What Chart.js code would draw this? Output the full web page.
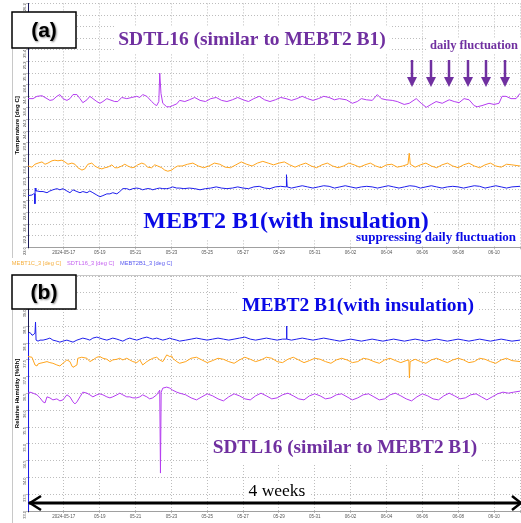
<!DOCTYPE html>
<html>
<head>
<meta charset="utf-8">
<script src="https://cdn.jsdelivr.net/npm/chart.js@4.4.1/dist/chart.umd.min.js"></script>
<style>
  html, body { margin: 0; padding: 0; background: #fff; }
  #wrap { position: relative; width: 521px; height: 523px; overflow: hidden; }
  #c1 { position: absolute; left: 0; top: 0; }
  #c2 { position: absolute; left: 0; top: 272px; }
</style>
</head>
<body>
<div id="wrap">
  <canvas id="c1" width="521" height="278" style="width:521px;height:278px"></canvas>
  <canvas id="c2" width="521" height="251" style="width:521px;height:251px"></canvas>
</div>
<script>
'use strict';

// x = days since 2024-05-15 00:00, y = reading
const xTickText = ['', '2024-05-17', '05-19', '05-21', '05-23', '05-25', '05-27', '05-29', '05-31', '06-02', '06-04', '06-06', '06-08', '06-10']

// temperature [deg C]
const tMebt1c = [[0,23.40],[0.22,23.38],[0.39,23.43],[0.56,23.45],[0.78,23.47],[0.95,23.43],[1.11,23.45],[1.34,23.49],[1.5,23.50],[1.67,23.49],[1.89,23.50],[2.06,23.47],[2.23,23.43],[2.45,23.45],[2.62,23.43],[2.78,23.37],[3.01,23.33],[3.17,23.35],[3.34,23.43],[3.56,23.45],[3.73,23.40],[3.9,23.37],[4.12,23.35],[4.29,23.37],[4.45,23.38],[4.68,23.42],[4.84,23.37],[5.01,23.37],[5.23,23.40],[5.4,23.43],[5.57,23.40],[5.79,23.37],[5.96,23.38],[6.12,23.42],[6.35,23.45],[6.51,23.43],[6.68,23.38],[6.9,23.37],[7.07,23.42],[7.24,23.40],[7.46,23.37],[7.63,23.33],[7.8,23.31],[8.02,23.33],[8.18,23.37],[8.35,23.40],[8.6,23.40],[8.9,23.43],[9.2,23.45],[9.5,23.40],[9.8,23.37],[10.1,23.40],[10.4,23.45],[10.7,23.43],[11.0,23.38],[11.3,23.37],[11.6,23.42],[11.9,23.47],[12.2,23.43],[12.5,23.40],[12.8,23.45],[13.1,23.48],[13.4,23.45],[13.7,23.42],[14.0,23.45],[14.3,23.47],[14.6,23.42],[14.9,23.38],[15.2,23.42],[15.5,23.45],[15.8,23.40],[16.1,23.37],[16.4,23.42],[16.7,23.45],[17.0,23.40],[17.3,23.37],[17.6,23.40],[17.9,23.45],[18.2,23.42],[18.5,23.38],[18.8,23.42],[19.1,23.45],[19.4,23.40],[19.7,23.37],[20.0,23.42],[20.3,23.43],[20.6,23.38],[20.9,23.40],[21.2,23.43],[21.27,23.62],[21.33,23.43],[21.6,23.38],[21.9,23.42],[22.2,23.45],[22.5,23.40],[22.8,23.37],[23.1,23.42],[23.4,23.45],[23.7,23.40],[24.0,23.37],[24.3,23.42],[24.6,23.45],[24.9,23.40],[25.2,23.37],[25.5,23.42],[25.8,23.45],[26.1,23.40],[26.4,23.38],[26.7,23.43],[27.0,23.42],[27.45,23.40]]

const tSdtl16 = [[0,24.56],[0.28,24.56],[0.5,24.60],[0.78,24.61],[1.06,24.56],[1.22,24.53],[1.39,24.54],[1.61,24.60],[1.78,24.63],[1.95,24.56],[2.17,24.53],[2.34,24.56],[2.51,24.63],[2.73,24.63],[2.9,24.56],[3.06,24.49],[3.29,24.54],[3.45,24.60],[3.62,24.56],[3.84,24.51],[4.01,24.48],[4.18,24.51],[4.4,24.56],[4.57,24.54],[4.84,24.51],[5.01,24.51],[5.23,24.58],[5.51,24.56],[5.79,24.58],[6.07,24.60],[6.24,24.58],[6.4,24.63],[6.63,24.60],[6.9,24.51],[7.07,24.46],[7.18,24.44],[7.3,24.51],[7.35,25.00],[7.42,24.65],[7.52,24.48],[7.74,24.42],[7.91,24.42],[8.07,24.44],[8.3,24.47],[8.46,24.53],[8.75,24.51],[9.0,24.54],[9.3,24.58],[9.6,24.53],[9.9,24.51],[10.2,24.56],[10.5,24.58],[10.8,24.53],[11.1,24.51],[11.4,24.54],[11.7,24.58],[12.0,24.54],[12.3,24.51],[12.6,24.56],[12.9,24.60],[13.2,24.54],[13.5,24.51],[13.8,24.54],[14.1,24.58],[14.4,24.56],[14.7,24.53],[15.0,24.56],[15.3,24.60],[15.6,24.56],[15.9,24.53],[16.2,24.56],[16.5,24.60],[16.8,24.58],[17.1,24.54],[17.37,24.56],[17.76,24.54],[18.1,24.48],[18.37,24.51],[18.6,24.56],[18.88,24.54],[19.21,24.53],[19.49,24.63],[19.71,24.56],[19.99,24.54],[20.32,24.53],[20.6,24.51],[20.99,24.46],[21.27,24.48],[21.66,24.56],[21.94,24.48],[22.22,24.41],[22.49,24.46],[22.77,24.51],[23.11,24.48],[23.5,24.54],[23.78,24.51],[24.05,24.49],[24.33,24.56],[24.61,24.54],[24.89,24.44],[25.06,24.42],[25.33,24.44],[25.72,24.48],[26.0,24.46],[26.28,24.48],[26.45,24.60],[26.67,24.60],[26.95,24.56],[27.23,24.56],[27.45,24.65]]

const tMebt2b1 = [[0,22.89],[0.22,22.90],[0.31,22.92],[0.37,22.92],[0.385,22.75],[0.4,23.02],[0.44,22.97],[0.5,22.97],[0.67,22.96],[0.84,22.96],[1.06,22.94],[1.22,22.97],[1.39,22.99],[1.61,23.01],[1.78,22.99],[1.95,23.01],[2.17,22.97],[2.34,22.94],[2.51,22.99],[2.73,22.96],[2.9,22.94],[3.06,22.96],[3.29,22.94],[3.45,22.97],[3.62,22.94],[3.84,22.90],[4.01,22.87],[4.18,22.89],[4.4,22.92],[4.57,22.92],[4.73,22.94],[4.96,22.92],[5.12,22.96],[5.29,23.01],[5.51,23.01],[5.68,22.99],[5.85,23.01],[6.07,23.02],[6.24,23.01],[6.4,22.99],[6.63,23.01],[6.79,23.01],[6.96,22.99],[7.18,23.01],[7.35,23.02],[7.52,23.01],[7.74,23.01],[7.91,23.02],[8.07,23.04],[8.3,23.02],[8.46,23.02],[8.7,23.01],[9.0,23.02],[9.3,23.01],[9.6,22.99],[9.9,23.01],[10.2,23.02],[10.5,23.04],[10.8,23.02],[11.1,23.01],[11.4,23.02],[11.7,23.04],[12.0,23.02],[12.3,23.01],[12.6,23.04],[12.9,23.05],[13.2,23.02],[13.5,23.01],[13.8,23.04],[14.1,23.05],[14.4,23.04],[14.42,23.25],[14.46,23.04],[14.7,23.02],[15.0,23.04],[15.3,23.06],[15.6,23.04],[15.9,23.02],[16.2,23.04],[16.5,23.06],[16.8,23.05],[17.1,23.02],[17.4,23.04],[17.7,23.06],[18.0,23.04],[18.3,23.02],[18.6,23.04],[18.9,23.05],[19.2,23.04],[19.5,23.02],[19.8,23.04],[20.1,23.06],[20.4,23.04],[20.7,23.02],[21.0,23.04],[21.3,23.06],[21.6,23.05],[21.9,23.02],[22.2,23.04],[22.5,23.06],[22.8,23.04],[23.1,23.02],[23.4,23.04],[23.7,23.05],[24.0,23.04],[24.3,23.02],[24.6,23.04],[24.9,23.06],[25.2,23.05],[25.5,23.02],[25.8,23.04],[26.1,23.06],[26.4,23.04],[26.7,23.02],[27.0,23.04],[27.45,23.05]]

// relative humidity [%Rh]
const hMebt1c = [[0,37.60],[0.22,37.58],[0.28,37.50],[0.39,37.35],[0.5,37.32],[0.56,37.38],[0.67,37.40],[0.84,37.42],[1.06,37.45],[1.22,37.42],[1.39,37.40],[1.61,37.35],[1.78,37.32],[1.95,37.40],[2.17,37.50],[2.34,37.45],[2.45,37.32],[2.51,37.28],[2.73,37.35],[2.78,37.55],[3.0,37.58],[3.29,37.55],[3.45,37.45],[3.62,37.50],[3.84,37.58],[4.01,37.60],[4.18,37.55],[4.4,37.52],[4.57,37.45],[4.73,37.50],[4.96,37.52],[5.12,37.55],[5.29,37.50],[5.51,37.55],[5.68,37.50],[5.85,37.45],[6.07,37.42],[6.24,37.50],[6.4,37.35],[6.63,37.45],[6.79,37.50],[6.96,37.55],[7.18,37.58],[7.35,37.50],[7.52,37.45],[7.74,37.65],[7.91,37.60],[8.02,37.62],[8.07,37.55],[8.3,37.45],[8.46,37.40],[8.8,37.45],[9.1,37.55],[9.4,37.58],[9.7,37.50],[10.0,37.42],[10.3,37.48],[10.6,37.55],[10.9,37.52],[11.2,37.45],[11.5,37.40],[11.8,37.50],[12.1,37.58],[12.4,37.52],[12.7,37.45],[13.0,37.50],[13.3,37.58],[13.6,37.55],[13.9,37.45],[14.2,37.42],[14.5,37.52],[14.8,37.58],[15.1,37.50],[15.4,37.42],[15.7,37.48],[16.0,37.55],[16.3,37.52],[16.6,37.45],[16.9,37.40],[17.2,37.50],[17.5,37.55],[17.8,37.50],[18.1,37.42],[18.4,37.45],[18.7,37.55],[19.0,37.52],[19.3,37.45],[19.6,37.40],[19.9,37.50],[20.2,37.55],[20.5,37.48],[20.8,37.42],[21.1,37.48],[21.25,37.50],[21.28,36.96],[21.32,37.45],[21.6,37.52],[21.9,37.45],[22.2,37.40],[22.5,37.50],[22.8,37.55],[23.1,37.48],[23.4,37.42],[23.7,37.50],[24.0,37.55],[24.3,37.50],[24.6,37.42],[24.9,37.45],[25.2,37.55],[25.5,37.52],[25.8,37.45],[26.1,37.40],[26.4,37.50],[26.7,37.55],[27.0,37.48],[27.45,37.45]]

const hSdtl16 = [[0,36.51],[0.11,36.54],[0.28,36.51],[0.5,36.46],[0.67,36.37],[0.84,36.25],[0.95,36.22],[1.06,36.40],[1.22,36.37],[1.39,36.31],[1.61,36.34],[1.78,36.28],[1.95,36.31],[2.17,36.46],[2.34,36.40],[2.51,36.25],[2.62,36.19],[2.73,36.25],[2.9,36.40],[3.06,36.54],[3.29,36.51],[3.45,36.46],[3.62,36.40],[3.84,36.46],[4.01,36.49],[4.18,36.46],[4.4,36.40],[4.57,36.37],[4.73,36.40],[4.96,36.46],[5.12,36.51],[5.29,36.46],[5.51,36.40],[5.68,36.40],[5.85,36.37],[6.07,36.37],[6.24,36.40],[6.4,36.46],[6.63,36.40],[6.79,36.34],[6.96,36.37],[7.18,36.46],[7.24,36.51],[7.35,36.60],[7.39,34.13],[7.43,36.54],[7.52,36.66],[7.74,36.69],[7.91,36.66],[8.07,36.60],[8.3,36.54],[8.46,36.51],[8.8,36.46],[9.1,36.37],[9.4,36.31],[9.7,36.40],[10.0,36.49],[10.3,36.43],[10.6,36.34],[10.9,36.28],[11.2,36.40],[11.5,36.49],[11.8,36.43],[12.1,36.34],[12.4,36.31],[12.7,36.43],[13.0,36.51],[13.3,36.43],[13.6,36.34],[13.9,36.37],[14.2,36.46],[14.5,36.51],[14.8,36.43],[15.1,36.34],[15.4,36.31],[15.7,36.43],[16.0,36.49],[16.3,36.43],[16.6,36.34],[16.9,36.37],[17.2,36.46],[17.5,36.49],[17.8,36.40],[18.1,36.31],[18.4,36.37],[18.7,36.46],[19.0,36.49],[19.3,36.40],[19.6,36.31],[19.9,36.34],[20.2,36.46],[20.5,36.51],[20.8,36.43],[21.1,36.34],[21.4,36.28],[21.7,36.40],[22.0,36.49],[22.3,36.43],[22.6,36.34],[22.9,36.31],[23.2,36.43],[23.5,36.51],[23.8,36.43],[24.1,36.34],[24.4,36.37],[24.7,36.46],[25.0,36.49],[25.3,36.40],[25.6,36.31],[25.9,36.40],[26.2,36.49],[26.5,36.54],[26.8,36.51],[27.1,36.54],[27.45,36.57]]

const hMebt2b1 = [[0,33.0],[0.03,38.30],[0.11,38.32],[0.22,38.24],[0.28,38.24],[0.39,38.30],[0.42,38.63],[0.45,38.09],[0.56,38.06],[0.67,38.09],[0.84,38.09],[1.06,38.12],[1.22,38.15],[1.39,38.09],[1.61,38.06],[1.78,38.03],[1.95,38.06],[2.17,38.09],[2.34,38.06],[2.51,38.03],[2.73,38.09],[2.9,38.12],[3.06,38.15],[3.29,38.12],[3.45,38.09],[3.62,38.15],[3.84,38.18],[4.01,38.15],[4.18,38.12],[4.4,38.09],[4.57,38.12],[4.73,38.15],[4.96,38.12],[5.12,38.09],[5.29,38.06],[5.51,38.12],[5.68,38.15],[5.85,38.12],[6.07,38.09],[6.24,38.12],[6.4,38.15],[6.63,38.18],[6.79,38.15],[6.96,38.12],[7.18,38.15],[7.35,38.12],[7.52,38.09],[7.74,38.12],[7.91,38.15],[8.07,38.12],[8.3,38.09],[8.46,38.06],[8.8,38.09],[9.1,38.12],[9.4,38.15],[9.7,38.12],[10.0,38.09],[10.3,38.12],[10.6,38.15],[10.9,38.12],[11.2,38.09],[11.5,38.12],[11.8,38.15],[12.1,38.18],[12.4,38.12],[12.7,38.09],[13.0,38.12],[13.3,38.15],[13.6,38.12],[13.9,38.09],[14.2,38.12],[14.4,38.12],[14.42,38.51],[14.45,38.12],[14.7,38.09],[15.0,38.12],[15.3,38.15],[15.6,38.12],[15.9,38.09],[16.2,38.12],[16.5,38.15],[16.8,38.12],[17.1,38.09],[17.4,38.06],[17.7,38.09],[18.0,38.12],[18.3,38.09],[18.6,38.06],[18.9,38.09],[19.2,38.12],[19.5,38.09],[19.8,38.06],[20.1,38.09],[20.4,38.12],[20.7,38.09],[21.0,38.06],[21.3,38.09],[21.6,38.12],[21.9,38.09],[22.2,38.06],[22.5,38.09],[22.8,38.12],[23.1,38.09],[23.4,38.06],[23.7,38.09],[24.0,38.12],[24.3,38.09],[24.6,38.06],[24.9,38.09],[25.2,38.12],[25.5,38.09],[25.8,38.06],[26.1,38.09],[26.4,38.12],[26.7,38.09],[27.0,38.06],[27.45,38.09]]

const ORANGE = '#ffa41c'
const PURPLE = '#b43cf0'
const BLUE = '#1e1eec'
const NOTE_PURPLE = '#7030a0'
const NOTE_BLUE = '#0a0ae6'
const SERIF = '"Liberation Serif", "Times New Roman", serif'

function lineSet(label, arr, color, legendColor) {
  return {
    label: label,
    data: arr.map(p => ({ x: p[0], y: p[1] })),
    borderColor: color,
    backgroundColor: color,
    legendColor: legendColor,
    borderWidth: 1,
    pointRadius: 0,
    tension: 0
  }
}

function xScale() {
  return {
    type: 'linear',
    min: 0,
    max: 27.45,
    afterFit: s => { s.height = 10 },
    ticks: {
      stepSize: 2, autoSkip: false, maxRotation: 0, padding: 1,
      font: { size: 4.5, family: 'Arial' }, color: '#555',
      callback: v => xTickText[v / 2] || ''
    },
    grid: { color: '#bdbdbd', tickLength: 2 },
    border: { color: '#a0a0a0', dash: [1, 2] }
  }
}

function yScale(min, max, step, title) {
  return {
    min: min, max: max,
    afterFit: s => { s.width = 22 },
    ticks: {
      stepSize: step, minRotation: 90, maxRotation: 90, padding: 1,
      font: { size: 4, family: 'Arial' }, color: '#444',
      callback: v => v.toFixed(1)
    },
    grid: { color: '#bdbdbd', tickLength: 2 },
    border: { color: '#1a1a5a', width: 1, dash: [1, 2] },
    title: {
      display: true, text: title, color: '#000', padding: { top: 8, bottom: 0 },
      font: { size: 6, weight: 'bold', family: 'Arial' }
    }
  }
}

// bg = half height of a white patch drawn behind the text
function textBox(ctx, txt, cx, cy, font, color, bg) {
  ctx.save()
  ctx.font = font
  ctx.textAlign = 'center'
  ctx.textBaseline = 'middle'
  if (bg) {
    const w = ctx.measureText(txt).width
    ctx.fillStyle = '#fff'
    ctx.fillRect(cx - w / 2 - 4, cy - bg, w + 8, bg * 2)
  } else {
    ctx.fillStyle = color
    ctx.fillText(txt, cx, cy)
  }
  ctx.restore()
}

function labelBox(ctx, txt, x, y, w, h) {
  ctx.save()
  ctx.fillStyle = '#fff'
  ctx.fillRect(x, y, w, h)
  ctx.strokeStyle = '#000'
  ctx.lineWidth = 1.5
  ctx.strokeRect(x, y, w, h)
  ctx.font = 'bold 21px Arial'
  ctx.textAlign = 'center'
  ctx.textBaseline = 'middle'
  ctx.shadowColor = 'rgba(0,0,0,0.45)'
  ctx.shadowOffsetX = 1
  ctx.shadowOffsetY = 1
  ctx.shadowBlur = 2
  ctx.fillStyle = '#000'
  ctx.fillText(txt, x + w / 2, y + h / 2 + 1)
  ctx.restore()
}

function downArrow(ctx, x, y0, y1, color) {
  ctx.save()
  ctx.strokeStyle = color
  ctx.fillStyle = color
  ctx.lineWidth = 2.5
  ctx.beginPath()
  ctx.moveTo(x, y0)
  ctx.lineTo(x, y1 - 8)
  ctx.stroke()
  ctx.beginPath()
  ctx.moveTo(x - 5, y1 - 10)
  ctx.lineTo(x + 5, y1 - 10)
  ctx.lineTo(x, y1)
  ctx.closePath()
  ctx.fill()
  ctx.restore()
}

function frameLine(ctx, x0, y0, x1, y1) {
  ctx.save()
  ctx.strokeStyle = '#c8c8c8'
  ctx.lineWidth = 1
  ctx.beginPath()
  ctx.moveTo(x0, y0)
  ctx.lineTo(x1, y1)
  ctx.stroke()
  ctx.restore()
}

const dailyArrowDays = [21.44, 22.5, 23.5, 24.56, 25.56, 26.62]

const topNotes = {
  id: 'topNotes',
  beforeDatasetsDraw(chart) {
    const ctx = chart.ctx
    textBox(ctx, 'SDTL16 (similar to MEBT2 B1)', 252, 40, 'bold 19.5px ' + SERIF, NOTE_PURPLE, 14)
    textBox(ctx, 'daily fluctuation', 474, 46, 'bold 12.5px ' + SERIF, NOTE_PURPLE, 8)
    textBox(ctx, 'MEBT2 B1(with insulation)', 286, 222, 'bold 24px ' + SERIF, NOTE_BLUE, 17)
    textBox(ctx, 'suppressing daily fluctuation', 436, 238, 'bold 13px ' + SERIF, NOTE_BLUE, 7)
  },
  afterDraw(chart) {
    const ctx = chart.ctx
    const xs = chart.scales.x
    frameLine(ctx, 12.5, 48, 12.5, 258)
    labelBox(ctx, '(a)', 12, 12, 64, 36)
    textBox(ctx, 'SDTL16 (similar to MEBT2 B1)', 252, 40, 'bold 19.5px ' + SERIF, NOTE_PURPLE)
    textBox(ctx, 'daily fluctuation', 474, 46, 'bold 12.5px ' + SERIF, NOTE_PURPLE)
    textBox(ctx, 'MEBT2 B1(with insulation)', 286, 222, 'bold 24px ' + SERIF, NOTE_BLUE)
    textBox(ctx, 'suppressing daily fluctuation', 436, 238, 'bold 13px ' + SERIF, NOTE_BLUE)
    for (const d of dailyArrowDays) {
      downArrow(ctx, Math.round(xs.getPixelForValue(d)), 60, 87, NOTE_PURPLE)
    }
  }
}

const bottomNotes = {
  id: 'bottomNotes',
  beforeDatasetsDraw(chart) {
    const ctx = chart.ctx
    textBox(ctx, 'MEBT2 B1(with insulation)', 358, 34, 'bold 19.5px ' + SERIF, NOTE_BLUE, 15)
    textBox(ctx, 'SDTL16 (similar to MEBT2 B1)', 345, 176, 'bold 19.3px ' + SERIF, NOTE_PURPLE, 16)
    textBox(ctx, '4 weeks', 277, 219, '17.5px ' + SERIF, '#000', 8)
  },
  afterDraw(chart) {
    const ctx = chart.ctx
    const area = chart.chartArea
    frameLine(ctx, 12.5, 37, 12.5, 251)
    frameLine(ctx, 76, 3.5, 521, 3.5)
    labelBox(ctx, '(b)', 12, 3, 64, 34)
    textBox(ctx, 'MEBT2 B1(with insulation)', 358, 34, 'bold 19.5px ' + SERIF, NOTE_BLUE)
    textBox(ctx, 'SDTL16 (similar to MEBT2 B1)', 345, 176, 'bold 19.3px ' + SERIF, NOTE_PURPLE)
    textBox(ctx, '4 weeks', 277, 219, '17.5px ' + SERIF, '#000')
    // 4 weeks span arrow
    const y = 231
    ctx.save()
    ctx.strokeStyle = '#000'
    ctx.lineWidth = 3
    ctx.beginPath()
    ctx.moveTo(area.left + 1, y)
    ctx.lineTo(area.right, y)
    ctx.stroke()
    ctx.lineWidth = 2.5
    ctx.beginPath()
    ctx.moveTo(area.left + 13, y - 7)
    ctx.lineTo(area.left + 2, y)
    ctx.lineTo(area.left + 13, y + 7)
    ctx.moveTo(area.right - 8, y - 7)
    ctx.lineTo(area.right + 1, y)
    ctx.lineTo(area.right - 8, y + 7)
    ctx.stroke()
    ctx.restore()
  }
}

const topChart = new Chart(document.getElementById('c1'), {
  type: 'line',
  data: {
    datasets: [
      lineSet('MEBT1C_3 [deg C]', tMebt1c, ORANGE, '#f5b040'),
      lineSet('SDTL16_3 [deg C]', tSdtl16, PURPLE, '#c460f0'),
      lineSet('MEBT2B1_3 [deg C]', tMebt2b1, BLUE, '#5a5af0')
    ]
  },
  options: {
    responsive: false,
    animation: false,
    layout: { padding: { left: 6, right: 0, top: 1, bottom: 2 } },
    scales: {
      x: xScale(),
      y: yScale(22, 26.2, 0.2, 'Temperature [deg C]')
    },
    plugins: {
      tooltip: { enabled: false },
      legend: {
        position: 'bottom',
        align: 'start',
        labels: {
          boxWidth: 0, boxHeight: 0, padding: 3,
          font: { size: 5.7, family: 'Arial' },
          generateLabels: ch => ch.data.datasets.map((d, i) => ({
            text: d.label, fontColor: d.legendColor,
            fillStyle: 'rgba(0,0,0,0)', strokeStyle: 'rgba(0,0,0,0)',
            lineWidth: 0, datasetIndex: i, hidden: false
          }))
        }
      }
    }
  },
  plugins: [topNotes]
})

const bottomChart = new Chart(document.getElementById('c2'), {
  type: 'line',
  data: {
    datasets: [
      lineSet('MEBT1C_3 [%Rh]', hMebt1c, ORANGE, ORANGE),
      lineSet('SDTL16_3 [%Rh]', hSdtl16, PURPLE, PURPLE),
      lineSet('MEBT2B1_3 [%Rh]', hMebt2b1, BLUE, BLUE)
    ]
  },
  options: {
    responsive: false,
    animation: false,
    layout: { padding: { left: 6, right: 0, top: 4, bottom: 2 } },
    scales: {
      x: xScale(),
      y: yScale(33, 40, 0.5, 'Relative Humidity [%Rh]')
    },
    plugins: {
      tooltip: { enabled: false },
      legend: { display: false }
    }
  },
  plugins: [bottomNotes]
})
</script>
</body>
</html>
